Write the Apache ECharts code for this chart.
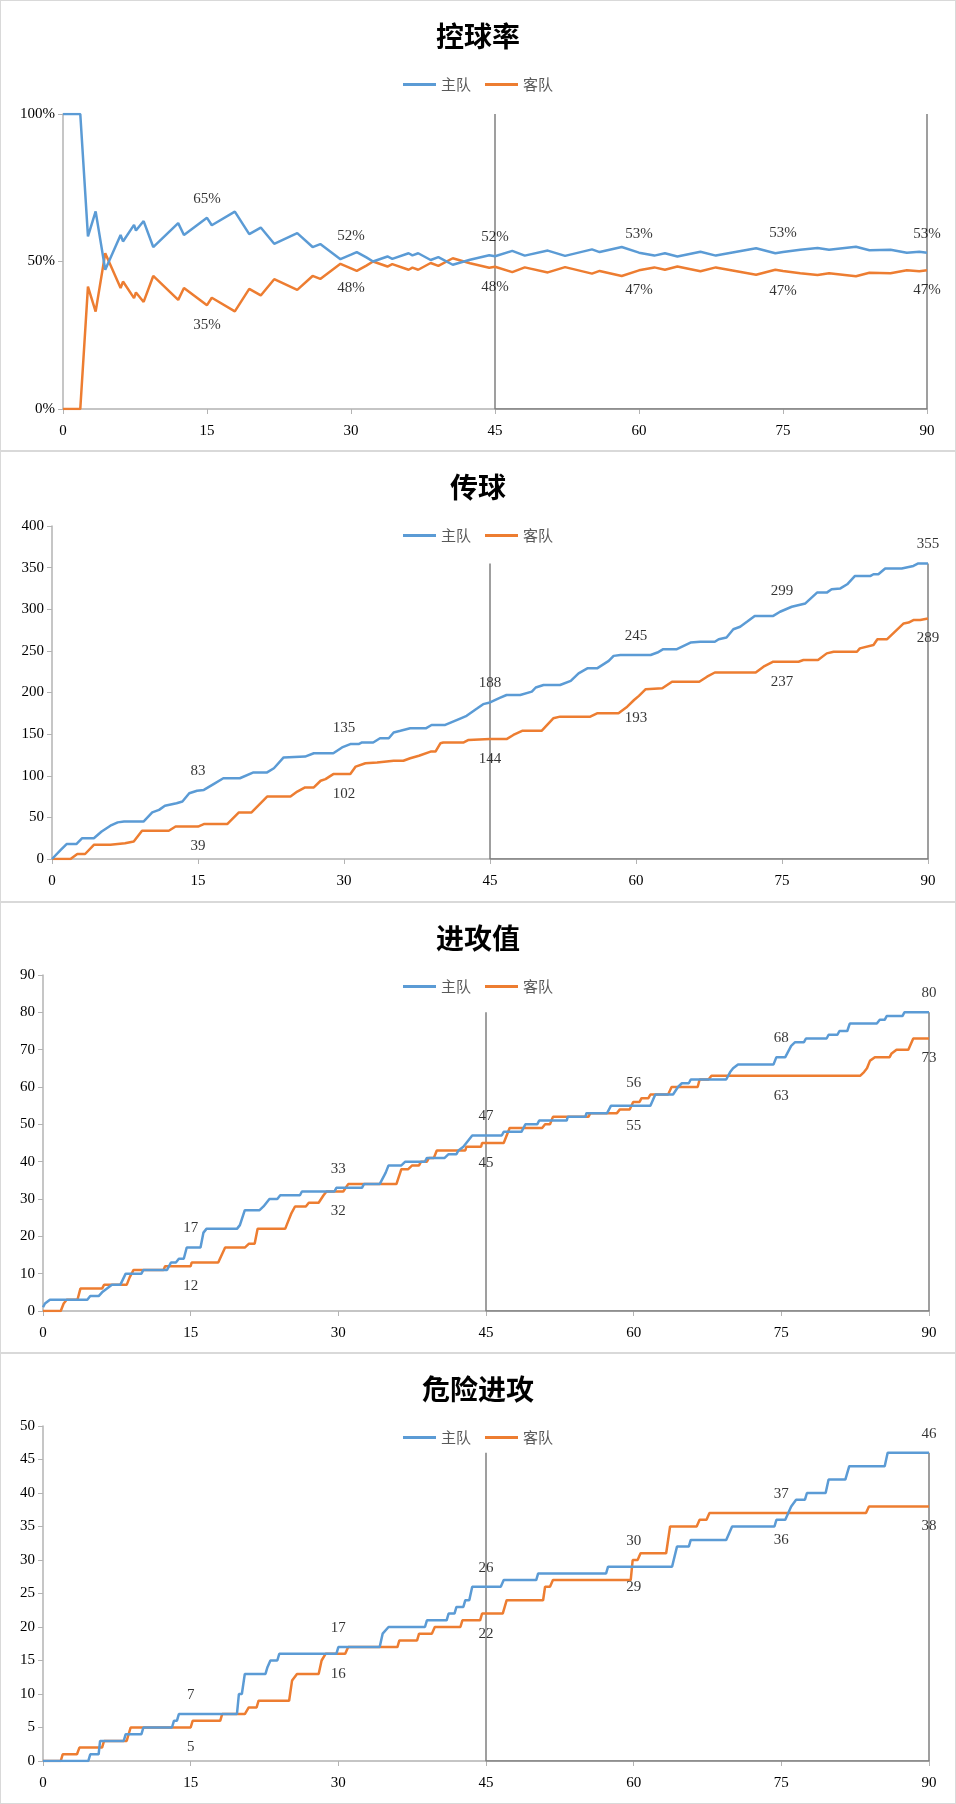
<!DOCTYPE html>
<html>
<head>
<meta charset="utf-8">
<title>比赛数据走势</title>
<script src="https://cdn.jsdelivr.net/npm/echarts@6/dist/echarts.min.js"></script>
<style>
  body { margin: 0; background: #fff; }
  .panel { position: relative; width: 956px; height: 451px; }
  .panel .chart { width: 956px; height: 451px; }
  .panel:after { content: ''; position: absolute; left: 0; top: 0; right: 0; bottom: 0;
    border: 1px solid #d9d9d9; pointer-events: none; }
</style>
</head>
<body>
<div class="panel"><div class="chart" id="possChart"></div></div>
<div class="panel"><div class="chart" id="passChart"></div></div>
<div class="panel"><div class="chart" id="attackChart"></div></div>
<div class="panel"><div class="chart" id="dangerChart"></div></div>
<script type="text/javascript">
var labelMins = [15, 30, 45, 60, 75, 90];
var halfMarks = [45, 90];
var xTicks = [0, 15, 30, 45, 60, 75, 90];

// 控球率 (%), [分钟, 值]
var possHome = [[0,100],[1.8,100],[2.6,58.5],[3.4,67],[4.4,47.2],[6,59],[6.25,56.8],[7.4,62.4],[7.6,60.5],[8.4,63.7],
  [9.4,54.9],[12,63],[12.6,59],[15,64.8],[15.5,62.3],[17.9,66.9],[19.4,59.3],[20.6,61.5],[22,56],[24.4,59.6],
  [26,54.9],[26.8,55.9],[28.9,50.8],[30,52.3],[30.6,53.2],[31.6,51.4],[32.3,50],[33.8,51.7],[34.3,50.9],[36,52.8],
  [36.4,52.1],[37,52.8],[38.3,50.5],[39.1,51.5],[40.6,48.9],[42.4,50.6],[44.4,52.1],[45,51.8],[46.8,53.6],[48.1,52],
  [50.5,53.7],[52.3,51.9],[55.1,54.1],[55.9,53.2],[58.2,54.9],[60,53],[61.6,52],[62.7,52.8],[64,51.7],[66.4,53.3],
  [68,52],[72.2,54.5],[74.2,52.8],[75,53.2],[76.8,54],[78.6,54.6],[79.8,54],[82.6,55],[84,53.8],[86.2,54],
  [87.9,53],[89.2,53.3],[90,53]];
var possAway = [[0,0],[1.8,0],[2.6,41.5],[3.4,33],[4.4,52.8],[6,41],[6.25,43.2],[7.4,37.6],[7.6,39.5],[8.4,36.3],
  [9.4,45.1],[12,37],[12.6,41],[15,35.2],[15.5,37.7],[17.9,33.1],[19.4,40.7],[20.6,38.5],[22,44],[24.4,40.4],
  [26,45.1],[26.8,44.1],[28.9,49.2],[30,47.7],[30.6,46.8],[31.6,48.6],[32.3,50],[33.8,48.3],[34.3,49.1],[36,47.2],
  [36.4,47.9],[37,47.2],[38.3,49.5],[39.1,48.5],[40.6,51.1],[42.4,49.4],[44.4,47.9],[45,48.2],[46.8,46.4],[48.1,48],
  [50.5,46.3],[52.3,48.1],[55.1,45.9],[55.9,46.8],[58.2,45.1],[60,47],[61.6,48],[62.7,47.2],[64,48.3],[66.4,46.7],
  [68,48],[72.2,45.5],[74.2,47.2],[75,46.8],[76.8,46],[78.6,45.4],[79.8,46],[82.6,45],[84,46.2],[86.2,46],
  [87.9,47],[89.2,46.7],[90,47]];

// 传球
var passHome = [[0,0],[0.9,11],[1.5,18],[2.5,18],[3.1,25],[4.3,25],[5.1,33],[6,40],[6.75,44],[7.4,45],[9.4,45],
  [10.3,56],[11,59],[11.6,64],[12.8,67],[13.4,69],[14.1,79],[14.9,82],[15,83],[15.6,83],[16.6,90],[17.6,97],
  [19.3,97],[20.7,104],[22.1,104],[22.8,109],[23.8,122],[26,123],[26.9,127],[28.9,127],[29.8,134],[30,135],
  [30.65,138],[31.5,138],[31.85,140],[33,140],[33.7,145],[34.6,145],[35.1,152],[35.8,154],[36.8,157],[38.4,157],
  [39,161],[40.4,161],[42,169],[42.6,172],[43.7,181],[44.3,186],[45,188],[46,193.5],[46.7,197],[48.1,197],
  [49.3,201],[49.7,206],[50.5,209],[52.2,209],[53.3,214],[54.1,223],[55,229],[56,229],[57.2,238],[57.7,244],
  [58.4,245],[60,245],[61.5,245],[62.2,248],[62.8,252],[64.2,252],[65.6,260],[66.6,261],[68.1,261],[68.5,264],
  [69.3,266],[70,276],[70.7,279],[71.4,285],[72.2,292],[74.1,292],[74.8,297],[75,299],[76,303],[77.4,307],
  [78.6,320],[79.6,320],[80.1,324],[81,325],[81.7,330],[82.5,340],[84.1,340],[84.4,342],[84.9,342],[85.6,349],
  [87.3,349],[88.5,352],[89,355],[90,355]];
var passAway = [[0,0],[1.9,0],[2.6,6],[3.4,6],[4.3,17],[6,17],[6.2,19],[7.5,19],[8.4,21],[9.25,34],[12,34],
  [12.7,39],[15,39],[15.6,42],[18,42],[19.2,56],[20.5,56],[22.1,75],[24.5,75],[25.2,81],[26,86],[26.9,86],
  [27.6,94],[28.1,96],[28.9,102],[30,102],[30.65,102],[31.2,111],[32.2,115],[33.4,116],[35.1,118],[36.1,118],
  [36.8,121],[37.7,124],[38.9,129],[39.4,129],[39.9,139],[40.2,140],[42.3,140],[42.8,143],[45,144],[46.7,144],
  [47.4,149],[48.3,154],[50.3,154],[51.5,169],[52.2,171],[55.3,171],[56,175],[58.2,175],[59.1,183],[59.8,191],
  [60,193],[60.3,196],[61,204],[62.7,205],[63.7,213],[66.5,213],[67.3,219],[68.1,224],[72.3,224],[73.1,231],
  [74.1,237],[75,237],[76.7,237],[77.2,239],[78.7,239],[79.6,247],[80.3,249],[82.7,249],[83,253],[84.4,257],
  [84.8,264],[85.8,264],[87.5,283],[88,284],[88.5,287],[89.2,287],[90,289]];

// 进攻值
var attackHome = [[0,1],[0.2,2],[0.7,3],[4.5,3],[4.8,4],[5.65,4],[6,5],[6.5,6],[7,7],[7.85,7],[8.4,10],[10,10],
  [10.2,11],[12.6,11],[13,13],[13.5,13],[13.8,14],[14.3,14],[14.6,17],[15,17],[16,17],[16.3,21],[16.6,22],
  [19.7,22],[20,23],[20.5,27],[22,27],[22.4,28],[22.7,29],[23,30],[23.8,30],[24.1,31],[26.1,31],[26.3,32],
  [29.6,32],[29.8,33],[30,33],[32.4,33],[32.6,34],[34.2,34],[34.8,37],[35.1,39],[36.4,39],[36.8,40],[38.8,40],
  [39,41],[40.8,41],[41.2,42],[42,42],[42.2,43],[42.7,44],[43,45],[43.6,47],[45,47],[46.6,47],[46.8,48],
  [48.6,48],[49,50],[50.2,50],[50.4,51],[53.2,51],[53.3,52],[55.1,52],[55.2,53],[57.3,53],[57.7,55],[60,55],
  [61.7,55],[62.2,58],[64,58],[64.5,60],[64.9,61],[65.6,61],[65.8,62],[69.4,62],[69.8,64],[70.1,65],[70.6,66],
  [74.2,66],[74.5,68],[75,68],[75.4,68],[76,71],[76.4,72],[77.3,72],[77.5,73],[79.6,73],[79.8,74],[80.7,74],
  [80.9,75],[81.7,75],[81.95,77],[84.7,77],[85,78],[85.5,78],[85.7,79],[87.3,79],[87.5,80],[90,80]];
var attackAway = [[0,0],[1.8,0],[2.1,2],[2.4,3],[3.5,3],[3.8,6],[6,6],[6.2,7],[8.5,7],[8.8,9],[9.2,11],[12.25,11],
  [12.4,12],[15,12],[15.1,13],[17.8,13],[18.5,17],[20.5,17],[20.9,18],[21.5,18],[21.8,22],[24.6,22],[24.9,24],
  [25.2,26],[25.6,28],[26.7,28],[27,29],[28,29],[28.5,31],[28.8,32],[30,32],[30.5,32],[31,34],[35.9,34],
  [36.4,38],[37.1,38],[37.5,39],[38.2,39],[38.4,40],[39,40],[39.2,41],[39.7,41],[40,43],[42.9,43],[43,44],
  [44.5,44],[44.6,45],[45,45],[46.8,45],[47.4,49],[50.7,49],[51,50],[51.5,50],[51.8,52],[55.4,52],[55.6,53],
  [58.3,53],[58.6,54],[59.6,54],[59.95,56],[60,56],[60.6,56],[60.8,57],[61.5,57],[61.7,58],[63.5,58],[63.85,60],
  [66.5,60],[66.7,62],[67.6,62],[67.9,63],[75,63],[83,63],[83.4,64],[83.7,65],[84,67],[84.5,68],[86,68],
  [86.2,69],[86.7,70],[87.9,70],[88.4,73],[90,73]];

// 危险进攻
var dangerHome = [[0,0],[4.6,0],[4.8,1],[5.65,1],[5.8,3],[8.2,3],[8.4,4],[10,4],[10.2,5],[13.1,5],[13.3,6],
  [13.6,6],[13.8,7],[15,7],[19.7,7],[19.9,10],[20.2,10],[20.5,13],[22.6,13],[22.8,14],[23.1,15],[23.8,15],
  [24,16],[29.8,16],[30,17],[34.2,17],[34.5,19],[35.1,20],[38.8,20],[39,21],[41,21],[41.2,22],[41.8,22],
  [42,23],[42.7,23],[42.9,24],[43.3,24],[43.6,26],[45,26],[46.5,26],[46.8,27],[50.1,27],[50.3,28],[57.2,28],
  [57.4,29],[60,29],[63.9,29],[64.4,32],[65.6,32],[65.8,33],[69.4,33],[69.7,34],[70,35],[74.3,35],[74.5,36],
  [75,36],[75.4,36],[76,38],[76.5,39],[77.4,39],[77.6,40],[79.5,40],[79.8,42],[81.5,42],[81.9,44],[85.5,44],
  [85.8,46],[90,46]];
var dangerAway = [[0,0],[1.8,0],[2,1],[3.45,1],[3.7,2],[6,2],[6.2,3],[8.5,3],[8.9,5],[15,5],[15.2,6],[18,6],
  [18.2,7],[20.5,7],[20.9,8],[21.7,8],[21.9,9],[25,9],[25.3,12],[25.8,13],[28,13],[28.3,15],[28.7,16],[30,16],
  [30.7,16],[31,17],[36,17],[36.2,18],[38,18],[38.2,19],[39.5,19],[39.8,20],[42.4,20],[42.6,21],[44.4,21],
  [44.6,22],[45,22],[46.7,22],[47.1,24],[50.8,24],[51,26],[51.5,26],[51.8,27],[59.7,27],[59.9,30],[60,30],
  [60.4,30],[60.7,31],[63.3,31],[63.7,35],[66.4,35],[66.7,36],[67.4,36],[67.7,37],[75,37],[83.6,37],[83.9,38],
  [90,38]];

var numFont = "'Liberation Serif', 'DejaVu Serif', serif";
var cjkFont = "'Noto Sans CJK SC', sans-serif";

function valueAt(list, m) {
  for (var i = 0; i < list.length; i++) {
    if (list[i][0] === m) return list[i][1];
  }
  return null;
}

function maxOf(list) {
  var mx = 0;
  list.forEach(function (p) { if (p[1] > mx) mx = p[1]; });
  return mx;
}

function labelItems(own, other) {
  return labelMins.map(function (m) {
    var v = valueAt(own, m), o = valueAt(other, m);
    var up = v >= o;
    return {
      value: [m, v],
      label: { position: up ? 'top' : 'bottom', distance: up ? 11 : 12 }
    };
  });
}

function buildOption(cfg) {
  var top = Math.max(maxOf(cfg.home), maxOf(cfg.away));
  var bracket = [[halfMarks[0], top], [halfMarks[0], 0], [halfMarks[1], 0], [halfMarks[1], top]];
  var labelStyle = {
    show: true,
    color: '#000',
    fontFamily: numFont,
    fontSize: 15,
    formatter: function (p) { return Math.round(p.value[1]) + cfg.suffix; }
  };
  return {
    animation: false,
    title: {
      text: cfg.title,
      left: 'center',
      top: 17,
      textStyle: { fontFamily: cjkFont, fontSize: 28, fontWeight: 'bold', color: '#000' }
    },
    legend: {
      data: ['主队', '客队'],
      top: 72,
      left: 'center',
      icon: 'rect',
      itemWidth: 33,
      itemHeight: 3,
      itemGap: 14,
      textStyle: { fontFamily: cjkFont, fontSize: 15, color: '#595959' }
    },
    grid: cfg.grid,
    xAxis: {
      type: 'value',
      min: 0,
      max: 90,
      interval: 15,
      splitLine: { show: false },
      axisLine: { lineStyle: { color: '#b3b3b3', width: 1.5 } },
      axisTick: { length: 5, lineStyle: { color: '#b3b3b3' } },
      axisLabel: { margin: 15, color: '#000', fontFamily: numFont, fontSize: 15 }
    },
    yAxis: {
      type: 'value',
      min: 0,
      max: cfg.yMax,
      interval: cfg.yInterval,
      splitLine: { show: false },
      axisLine: { show: true, lineStyle: { color: '#b3b3b3', width: 1.5 } },
      axisTick: { show: true, length: 5, lineStyle: { color: '#b3b3b3' } },
      axisLabel: { margin: 8, color: '#000', fontFamily: numFont, fontSize: 15,
        formatter: '{value}' + cfg.suffix }
    },
    series: [
      {
        name: '半场',
        type: 'line',
        data: bracket,
        symbol: 'none',
        silent: true,
        lineStyle: { color: '#7f7f7f', width: 1.5 },
        z: 1
      },
      {
        name: '主队',
        type: 'line',
        data: cfg.home,
        symbol: 'none',
        color: '#5b9bd5',
        lineStyle: { color: '#5b9bd5', width: 2.5 },
        z: 3
      },
      {
        name: '客队',
        type: 'line',
        data: cfg.away,
        symbol: 'none',
        color: '#ed7d31',
        lineStyle: { color: '#ed7d31', width: 2.5 },
        z: 2
      },
      {
        name: '主队标签',
        type: 'scatter',
        data: labelItems(cfg.home, cfg.away),
        symbolSize: 1,
        itemStyle: { color: 'rgba(0,0,0,0)' },
        label: labelStyle,
        silent: true,
        z: 5
      },
      {
        name: '客队标签',
        type: 'scatter',
        data: labelItems(cfg.away, cfg.home),
        symbolSize: 1,
        itemStyle: { color: 'rgba(0,0,0,0)' },
        label: labelStyle,
        silent: true,
        z: 5
      }
    ]
  };
}

var charts = [
  { id: 'possChart', title: '控球率', home: possHome, away: possAway, yMax: 100, yInterval: 50, suffix: '%',
    grid: { left: 63, right: 29, top: 114, bottom: 42 } },
  { id: 'passChart', title: '传球', home: passHome, away: passAway, yMax: 400, yInterval: 50, suffix: '',
    grid: { left: 52, right: 28, top: 75, bottom: 43 } },
  { id: 'attackChart', title: '进攻值', home: attackHome, away: attackAway, yMax: 90, yInterval: 10, suffix: '',
    grid: { left: 43, right: 27, top: 73, bottom: 42 } },
  { id: 'dangerChart', title: '危险进攻', home: dangerHome, away: dangerAway, yMax: 50, yInterval: 5, suffix: '',
    grid: { left: 43, right: 27, top: 73, bottom: 43 } }
];

charts.forEach(function (cfg) {
  var chart = echarts.init(document.getElementById(cfg.id));
  chart.setOption(buildOption(cfg));
});
</script>
</body>
</html>
